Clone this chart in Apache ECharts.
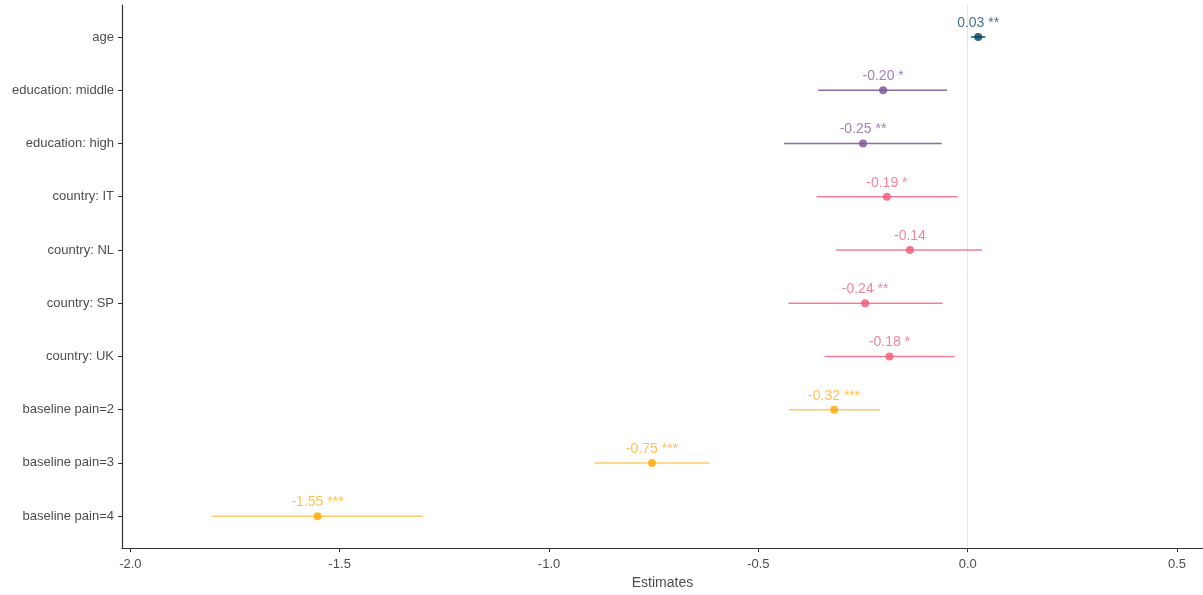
<!DOCTYPE html>
<html>
<head>
<meta charset="utf-8">
<script src="https://cdn.jsdelivr.net/npm/echarts@6/dist/echarts.min.js"></script>
<style>
html,body{margin:0;padding:0;background:#fff;}
#chart{width:1203px;height:595px;}
</style>
</head>
<body>
<div id="chart"></div>
<script>
// Data (top to bottom)
const categories = ['age','education: middle','education: high','country: IT','country: NL','country: SP','country: UK','baseline pain=2','baseline pain=3','baseline pain=4'];
const groups = ['age','education','education','country','country','country','country','pain','pain','pain'];
const estimates = [0.025,-0.202,-0.250,-0.193,-0.138,-0.245,-0.187,-0.319,-0.754,-1.553];
const ciLow = [0.008,-0.357,-0.439,-0.361,-0.314,-0.428,-0.342,-0.427,-0.891,-1.805];
const ciHigh = [0.042,-0.049,-0.062,-0.024,0.034,-0.060,-0.031,-0.209,-0.617,-1.302];
const labels = ['0.03 **','-0.20 *','-0.25 **','-0.19 *','-0.14','-0.24 **','-0.18 *','-0.32 ***','-0.75 ***','-1.55 ***'];
const xTicks = [-2.0,-1.5,-1.0,-0.5,0.0,0.5];

const groupColors = {age:'#003f5c', education:'#7a5195', country:'#ef5675', pain:'#ffa600'};
const groupLight = {age:'rgba(0,63,92,0.9)', education:'rgba(122,81,149,0.85)', country:'rgba(239,86,117,0.75)', pain:'rgba(255,166,0,0.6)'};
const groupText = {age:'rgba(0,63,92,0.95)', education:'rgba(122,81,149,0.9)', country:'rgba(239,86,117,0.9)', pain:'rgba(255,166,0,0.85)'};

const pos = categories.map((c,i)=>i+1);
const errData = categories.map((c,i)=>[ciLow[i], ciHigh[i], pos[i], i]);
const ptData = categories.map((c,i)=>({
  value:[estimates[i], pos[i]],
  itemStyle:{color:groupColors[groups[i]]},
  label:{formatter:labels[i], color:groupText[groups[i]]}
}));

const chart = echarts.init(document.getElementById('chart'), null, {renderer:'canvas'});
chart.setOption({
  animation:false,
  backgroundColor:'#fff',
  grid:{left:122, right:0, top:5, bottom:45, containLabel:false},
  xAxis:{
    type:'value', min:-2.02, max:0.562,
    name:'Estimates', nameLocation:'middle', nameGap:26,
    nameTextStyle:{color:'#4d4d4d', fontSize:14, fontFamily:'Liberation Sans, Arial, sans-serif'},
    axisLine:{show:true, onZero:false, lineStyle:{color:'#333', width:1.2}},
    axisTick:{show:true, length:4, lineStyle:{color:'#333'}, customValues:xTicks},
    axisLabel:{color:'#4d4d4d', fontSize:13, margin:10, fontFamily:'Liberation Sans, Arial, sans-serif',
      customValues:xTicks, formatter:v=>v.toFixed(1)},
    splitLine:{show:false}
  },
  yAxis:{
    type:'value', min:0.4, max:10.6, inverse:true,
    axisLine:{show:true, onZero:false, lineStyle:{color:'#333', width:1.2}},
    axisTick:{show:true, length:4, lineStyle:{color:'#333'}, customValues:pos},
    axisLabel:{color:'#4d4d4d', fontSize:13, margin:8, fontFamily:'Liberation Sans, Arial, sans-serif',
      customValues:pos, formatter:v=>categories[Math.round(v)-1] || ''},
    splitLine:{show:false}
  },
  series:[
    {
      type:'custom',
      silent:true,
      z:2,
      data:errData,
      encode:{x:[0,1], y:2},
      renderItem:function(params, api){
        const i = api.value(3);
        const a = api.coord([api.value(0), api.value(2)]);
        const b = api.coord([api.value(1), api.value(2)]);
        return {type:'line', shape:{x1:a[0], y1:a[1], x2:b[0], y2:b[1]},
          style:{stroke:groupLight[groups[i]], lineWidth:1.5}};
      },
      markLine:{
        silent:true, symbol:'none', label:{show:false},
        lineStyle:{color:'#e6e6e6', width:1, type:'solid'},
        data:[{xAxis:0}], z:1
      }
    },
    {
      type:'scatter',
      z:3,
      symbol:'circle',
      symbolSize:8,
      data:ptData,
      label:{show:true, position:'top', distance:3, fontSize:14, fontFamily:'Liberation Sans, Arial, sans-serif'}
    }
  ]
});
</script>
</body>
</html>
